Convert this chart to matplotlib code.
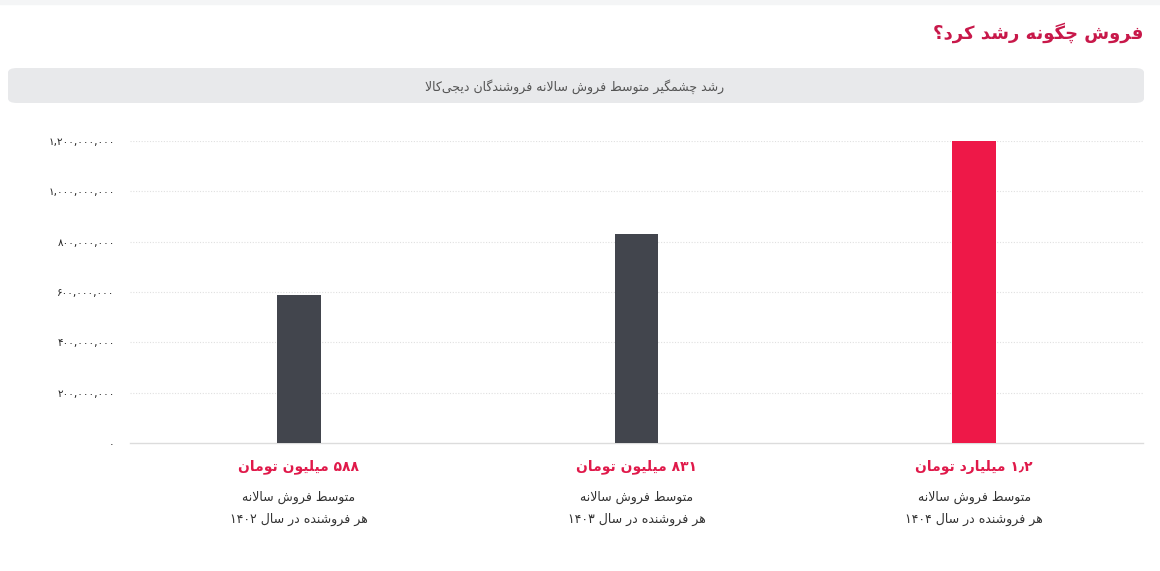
import matplotlib
matplotlib.use("Agg")
import matplotlib.pyplot as plt
from matplotlib.patches import FancyBboxPatch

# data
categories = ["۱۴۰۲", "۱۴۰۳", "۱۴۰۴"]
values = [588_000_000, 831_000_000, 1_200_000_000]
bar_colors = ["#42454d", "#42454d", "#ee1848"]
value_labels = ["۵۸۸ میلیون تومان", "۸۳۱ میلیون تومان", "۱٫۲ میلیارد تومان"]
sub_line1 = "متوسط فروش سالانه"
sub_line2 = "هر فروشنده در سال "
y_ticks = [0, 200_000_000, 400_000_000, 600_000_000, 800_000_000, 1_000_000_000, 1_200_000_000]
title = "فروش چگونه رشد کرد؟"
subtitle = "رشد چشمگیر متوسط فروش سالانه فروشندگان دیجی‌کالا"

# --- minimal Persian shaping (matplotlib has no bidi / joining) ---
FORMS = {  # isolated, final, initial, medial
    "ا": ("\uFE8D", "\uFE8E", None, None),
    "ب": ("\uFE8F", "\uFE90", "\uFE91", "\uFE92"),
    "ت": ("\uFE95", "\uFE96", "\uFE97", "\uFE98"),
    "ج": ("\uFE9D", "\uFE9E", "\uFE9F", "\uFEA0"),
    "د": ("\uFEA9", "\uFEAA", None, None),
    "ر": ("\uFEAD", "\uFEAE", None, None),
    "س": ("\uFEB1", "\uFEB2", "\uFEB3", "\uFEB4"),
    "ش": ("\uFEB5", "\uFEB6", "\uFEB7", "\uFEB8"),
    "ط": ("\uFEC1", "\uFEC2", "\uFEC3", "\uFEC4"),
    "ف": ("\uFED1", "\uFED2", "\uFED3", "\uFED4"),
    "ل": ("\uFEDD", "\uFEDE", "\uFEDF", "\uFEE0"),
    "م": ("\uFEE1", "\uFEE2", "\uFEE3", "\uFEE4"),
    "ن": ("\uFEE5", "\uFEE6", "\uFEE7", "\uFEE8"),
    "ه": ("\uFEE9", "\uFEEA", "\uFEEB", "\uFEEC"),
    "و": ("\uFEED", "\uFEEE", None, None),
    "چ": ("\uFB7A", "\uFB7B", "\uFB7C", "\uFB7D"),
    "ک": ("\uFB8E", "\uFB8F", "\uFB90", "\uFB91"),
    "گ": ("\uFB92", "\uFB93", "\uFB94", "\uFB95"),
    "ی": ("\uFBFC", "\uFBFD", "\uFBFE", "\uFBFF"),
}
DIGITS = set("۰۱۲۳۴۵۶۷۸۹0123456789٫,")


def dual(ch):
    return ch in FORMS and FORMS[ch][2] is not None


def shape(text):
    out = []
    i = 0
    n = len(text)
    while i < n:
        ch = text[i]
        if ch not in FORMS:
            if ch != "\u200c":
                out.append(ch)
            i += 1
            continue
        prev = text[i - 1] if i > 0 else ""
        joins_prev = dual(prev)
        if ch == "ل" and i + 1 < n and text[i + 1] == "ا":
            out.append("\uFEFC" if joins_prev else "\uFEFB")
            i += 2
            continue
        nxt = text[i + 1] if i + 1 < n else ""
        joins_next = dual(ch) and nxt in FORMS
        iso, fin, ini, med = FORMS[ch]
        if joins_prev and joins_next:
            out.append(med)
        elif joins_prev:
            out.append(fin)
        elif joins_next:
            out.append(ini)
        else:
            out.append(iso)
        i += 1
    # visual order: reverse, then restore digit runs
    rev = "".join(out)[::-1]
    res, run = [], []
    for ch in rev:
        if ch in DIGITS:
            run.append(ch)
        else:
            if run:
                res.extend(run[::-1])
                run = []
            res.append(ch)
    if run:
        res.extend(run[::-1])
    return "".join(res)


def fa_num(v):
    s = f"{v:,}"
    return s.translate(str.maketrans("0123456789", "۰۱۲۳۴۵۶۷۸۹"))


plt.rcParams["font.family"] = ["DejaVu Sans"]

fig = plt.figure(figsize=(11.6, 5.71), dpi=100)
W, H = 1160, 571

# faint top strip
fig.patches.append(plt.Rectangle((0, 1 - 4 / H), 1, 4 / H, transform=fig.transFigure,
                                 color="#f4f5f6", zorder=0))

fig.text(1143 / W, 1 - 33 / H, shape(title), ha="right", va="center",
         fontsize=13, fontweight="bold", color="#c8184a")

box = FancyBboxPatch((8 / W, 1 - 103 / H), 1136 / W, 35 / H,
                     boxstyle="round,pad=0,rounding_size=0.008",
                     transform=fig.transFigure, facecolor="#e8e9eb",
                     edgecolor="none", zorder=0)
fig.patches.append(box)
fig.text(575 / W, 1 - 87 / H, shape(subtitle), ha="center", va="center",
         fontsize=9, color="#555555")

ax = fig.add_axes([130 / W, 1 - 443 / H, 1013 / W, 302 / H])
x = list(range(len(values)))
ax.bar(x, values, width=0.13, color=bar_colors, zorder=3)
ax.set_xlim(-0.5, len(values) - 0.5)
ax.set_ylim(0, 1_200_000_000)

ax.set_yticks(y_ticks)
ax.set_yticklabels([fa_num(v) for v in y_ticks], fontsize=7.5, color="#222222")
ax.tick_params(axis="y", length=0, pad=11)
ax.set_xticks([])
for s in ["top", "right", "left"]:
    ax.spines[s].set_visible(False)
ax.spines["bottom"].set_color("#dcdcdc")
ax.spines["bottom"].set_linewidth(1)
ax.grid(axis="y", color="#e0e0e0", linestyle=(0, (1, 1.5)), linewidth=0.8, zorder=0)
ax.yaxis.get_gridlines()[0].set_visible(False)

for i, cat in enumerate(categories):
    xf = ax.transData.transform((i, 0))[0] / W
    fig.text(xf, 1 - 467 / H, shape(value_labels[i]), ha="center", va="center",
             fontsize=10, fontweight="bold", color="#e0194a")
    fig.text(xf, 1 - 497 / H, shape(sub_line1), ha="center", va="center",
             fontsize=9, color="#333333")
    fig.text(xf, 1 - 519 / H, shape(sub_line2 + cat), ha="center", va="center",
             fontsize=9, color="#333333")

fig.savefig("out.png", dpi=100, facecolor="white")
